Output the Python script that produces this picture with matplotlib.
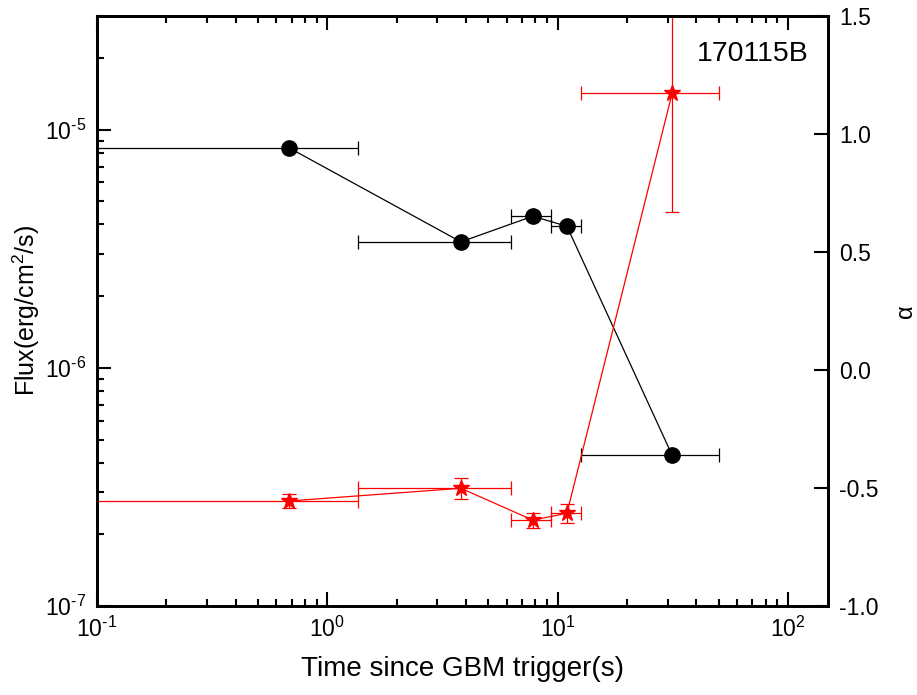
import matplotlib
matplotlib.use("Agg")
import numpy as np
import matplotlib.pyplot as plt
from matplotlib.ticker import LogLocator, NullFormatter, MultipleLocator, NullLocator, FuncFormatter

plt.rcParams['font.family'] = ['Liberation Sans', 'DejaVu Sans']
plt.rcParams['mathtext.fontset'] = 'custom'
plt.rcParams['mathtext.rm'] = 'Liberation Sans'
plt.rcParams['axes.unicode_minus'] = False

# time bins (s)
t_mid = [0.68, 3.8, 7.8, 10.97, 31.4]
t_lo = [0.01, 1.36, 6.25, 9.4, 12.6]
t_hi = [1.36, 6.25, 9.4, 12.6, 50.0]

# flux (erg/cm2/s)
flux = [8.4e-6, 3.38e-6, 4.33e-6, 3.93e-6, 4.3e-7]

# alpha
alpha = [-0.555, -0.501, -0.636, -0.607, 1.172]
alpha_err = [0.028, 0.045, 0.032, 0.04, 0.503]

xerr = [[m - lo for m, lo in zip(t_mid, t_lo)], [hi - m for m, hi in zip(t_mid, t_hi)]]


def pow_label(v, pos):
    e = int(round(np.log10(v)))
    if e < 0:
        return r'$\mathdefault{10^{\text{-}%d}}$' % abs(e)
    return r'$\mathdefault{10^{%d}}$' % e


fig = plt.figure(figsize=(9.17, 6.95), dpi=100)
ax = fig.add_axes([0.1058, 0.128, 0.797, 0.849])
ax2 = ax.twinx()

ax.errorbar(t_mid, flux, xerr=xerr, fmt='-o', color='black', ms=11, lw=0.9,
            elinewidth=0.9, capsize=5, capthick=0.9, zorder=3)
ax2.errorbar(t_mid, alpha, xerr=xerr, yerr=alpha_err, fmt='-*', color='red', ms=12,
             lw=0.9, elinewidth=0.9, capsize=5, capthick=0.9)

ax.set_xscale('log')
ax.set_yscale('log')
ax.set_xlim(0.1, 149)
ax.set_ylim(1e-7, 3e-5)
ax2.set_ylim(-1.0, 1.5)

ax.xaxis.set_major_locator(LogLocator(base=10, numticks=10))
ax.xaxis.set_minor_locator(LogLocator(base=10, subs=range(2, 10), numticks=20))
ax.xaxis.set_major_formatter(FuncFormatter(pow_label))
ax.xaxis.set_minor_formatter(NullFormatter())
ax.yaxis.set_major_locator(LogLocator(base=10, numticks=10))
ax.yaxis.set_minor_locator(LogLocator(base=10, subs=range(2, 10), numticks=20))
ax.yaxis.set_major_formatter(FuncFormatter(pow_label))
ax.yaxis.set_minor_formatter(NullFormatter())
ax2.yaxis.set_major_locator(MultipleLocator(0.5))
ax2.yaxis.set_minor_locator(NullLocator())
ax2.yaxis.set_major_formatter(FuncFormatter(lambda v, p: f"{v:.1f}"))

ax.tick_params(which='both', direction='in', top=True, right=False, labelsize=16.5, width=1.5)
ax.tick_params(which='major', length=10, pad=8)
ax.tick_params(which='minor', length=5)
ax2.tick_params(which='both', direction='in', labelsize=16.5, width=1.5, length=10, pad=8)

for a in (ax, ax2):
    for s in a.spines.values():
        s.set_linewidth(2)

ax.set_xlabel('Time since GBM trigger(s)', fontsize=20, labelpad=10)
ax.set_ylabel('Flux(erg/cm$^2$/s)', fontsize=18, labelpad=2)
ax2.set_ylabel('α', fontsize=17, labelpad=12)

ax.text(0.973, 0.935, '170115B', transform=ax.transAxes, fontsize=20.5, ha='right', va='center')

fig.savefig('out.png', dpi=100)
